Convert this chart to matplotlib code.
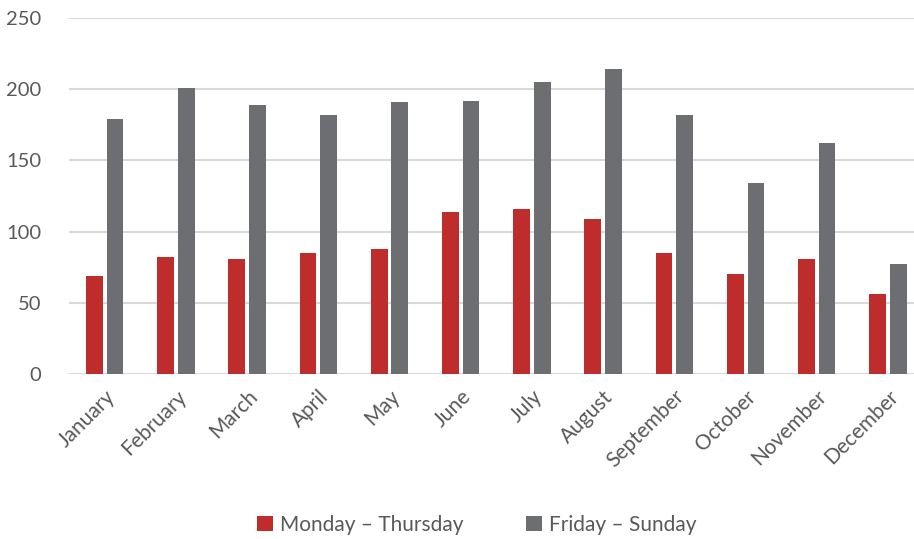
import numpy as np
import matplotlib
matplotlib.use("Agg")
import matplotlib.pyplot as plt

# data
months = ["January", "February", "March", "April", "May", "June",
          "July", "August", "September", "October", "November", "December"]
mon_thu = [69, 82, 81, 85, 88, 114, 116, 109, 85, 70, 81, 56]
fri_sun = [179, 201, 189, 182, 191, 192, 205, 214, 182, 134, 162, 77]
y_ticks = [0, 50, 100, 150, 200, 250]

RED = "#BE2D2C"
GRAY = "#6D6E71"
TEXT = "#595959"
GRID = "#D9D9D9"

plt.rcParams["font.family"] = ["Lato", "DejaVu Sans"]

fig = plt.figure(figsize=(9.14, 5.39), dpi=100)
ax = fig.add_axes([69 / 914, 165 / 539, 1 - 69 / 914, 356 / 539])

x = np.arange(len(months))
w = 0.235
ax.bar(x - 0.145, mon_thu, width=w, color=RED, label="Monday \u2013 Thursday", zorder=3)
ax.bar(x + 0.145, fri_sun, width=w, color=GRAY, label="Friday \u2013 Sunday", zorder=3)

ax.set_xlim(-0.5, 11.365)
ax.set_ylim(0, 250)
ax.set_yticks(y_ticks)
ax.yaxis.grid(True, color=GRID, linewidth=1.5, zorder=0)
ax.set_axisbelow(True)
for s in ax.spines.values():
    s.set_visible(False)

ax.set_xticks(x)
ax.set_xticklabels(months, rotation=45, ha="right", rotation_mode="anchor")
ax.tick_params(axis="x", length=0, pad=9, labelsize=15, labelcolor=TEXT)
ax.tick_params(axis="y", length=0, pad=20, labelsize=14.5, labelcolor=TEXT)

fig.legend(loc="center", bbox_to_anchor=(0.522, 14 / 539), ncol=2, frameon=False,
           handlelength=0.75, handleheight=0.75, handletextpad=0.35, columnspacing=3.0,
           fontsize=15, labelcolor=TEXT, borderpad=0)

fig.savefig("out.png", dpi=100)
